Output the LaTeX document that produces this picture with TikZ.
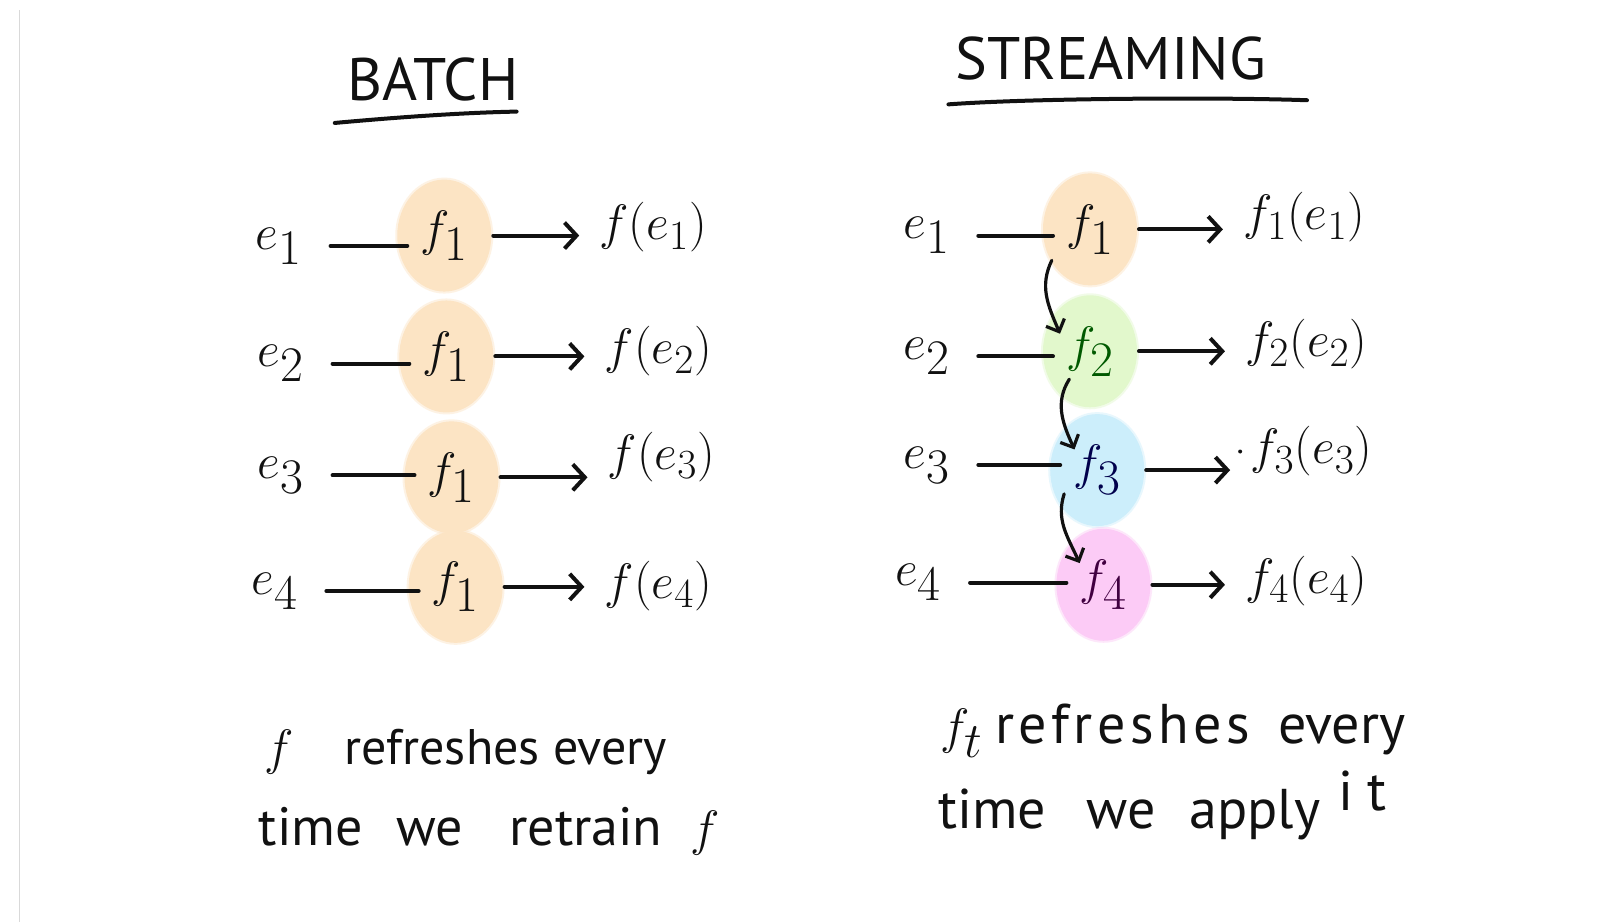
\documentclass[tikz,border=0pt]{standalone}
\usepackage{fontspec}
\setmainfont{PT Sans}
\usetikzlibrary{arrows.meta,shapes.geometric}
\definecolor{peach}{HTML}{FCE4C4}
\definecolor{mint}{HTML}{E2F8CC}
\definecolor{sky}{HTML}{CCEEFB}
\definecolor{orchid}{HTML}{FCCBF6}
\definecolor{ink}{HTML}{111111}
\tikzset{
  blob/.style={ellipse, minimum width=47pt, minimum height=56pt, inner sep=0pt,
    fill=#1, draw=#1, draw opacity=0.45, line width=2pt,
    font=\fontsize{36}{36}\selectfont},
  evt/.style={font=\fontsize{40}{40}\selectfont, inner sep=0pt},
  res/.style={font=\fontsize{28}{28}\selectfont, anchor=west, inner sep=0pt},
  feed/.style={line width=2pt, line cap=round, shorten <=14pt, shorten >=-6pt},
  apply/.style={line width=2pt, line cap=round, shorten >=10pt,
    -{Straight Barb[length=6pt,width=13pt,line width=2pt]}},
  pass/.style={line width=1.6pt, line cap=round,
    -{Straight Barb[length=5pt,width=10pt,line width=1.6pt]}},
  title/.style={font=\fontsize{30}{30}\selectfont},
  ruleline/.style={line width=2pt, line cap=round},
  note/.style={anchor=base west, inner sep=0pt},
}
\newcommand{\bigf}[1]{{\fontsize{34}{34}\selectfont$#1$}}
\newcommand{\spread}[1]{{\addfontfeatures{LetterSpace=8}#1}}
\begin{document}
\begin{tikzpicture}[x=0.5166pt, y=-0.5166pt, color=ink]
\fill[white] (0,0) rectangle (1568,892);
\useasboundingbox (0,0) rectangle (1568,892);
\draw[black!15, line width=0.6pt] (18.5,10) -- (18.5,892);

% ---------- batch ----------
\node[title] (tb) at (419,77) {BATCH};
\draw[ruleline] (324,119) .. controls (390,113) and (450,109) .. (500,108);

\node[evt] (e1) at (270,238) {$e_1$};
\node[evt] (e2) at (272,352) {$e_2$};
\node[evt] (e3) at (272,460) {$e_3$};
\node[evt] (e4) at (266,572) {$e_4$};

\node[blob=peach] (b1) at (430,228) {$f_1$};
\node[blob=peach] (b2) at (432,345) {$f_1$};
\node[blob=peach] (b3) at (437,462) {$f_1$};
\node[blob=peach] (b4) at (441,568) {$f_1$};

\node[res] (o1) at (580,220) {$f(e_1)$};
\node[res] (o2) at (585,340) {$f(e_2)$};
\node[res] (o3) at (588,442) {$f(e_3)$};
\node[res] (o4) at (585,567) {$f(e_4)$};

\foreach \i in {1,...,4} {
  \draw[feed] (e\i.east) -- (e\i.east -| b\i.west);
  \draw[apply] (b\i.east) -- (b\i.east -| o\i.west);
}

\node[note, font=\fontsize{25}{25}\selectfont] (nb1) at (256,740)
  {\bigf{f}\hspace{25pt}refreshes every};
\node[note, font=\fontsize{27}{27}\selectfont] (nb2) at (250,818)
  {time\hspace{17pt}we\hspace{23pt}retrain\hspace{14pt}\bigf{f}};

% ---------- streaming ----------
\node[title] (ts) at (1075,57) {STREAMING};
\draw[ruleline] (918,101) .. controls (1000,95) and (1180,94) .. (1265,97);

\node[evt] (g1) at (897,228) {$e_1$};
\node[evt] (g2) at (897,345) {$e_2$};
\node[evt] (g3) at (897,450) {$e_3$};
\node[evt] (g4) at (889,564) {$e_4$};

\node[blob=peach] (s1) at (1055,222) {$f_1$};
\node[blob=mint, text=green!35!black] (s2) at (1055,340) {$f_2$};
\node[blob=sky, text=blue!30!black] (s3) at (1062,455) {$f_3$};
\node[blob=orchid, text=violet!50!black] (s4) at (1068,566) {$f_4$};

\node[res] (r1) at (1203,210) {$f_1(e_1)$};
\node[res] (r2) at (1205,333) {$f_2(e_2)$};
\node[res] (r3) at (1210,437) {$f_3(e_3)$};
\node[res] (r4) at (1205,562) {$f_4(e_4)$};
\fill ([xshift=-5pt]r3.west) circle (1pt);

\foreach \i in {1,...,4} {
  \draw[feed] (g\i.east) -- (g\i.east -| s\i.west);
  \draw[apply] (s\i.east) -- (s\i.east -| r\i.west);
}

\draw[pass] ([shift={(-37,30)}]s1.center) .. controls +(-12,25) and +(-12,-28) .. ([shift={(-29,-17)}]s2.center);
\draw[pass] ([shift={(-20,27)}]s2.center) .. controls +(-14,22) and +(-12,-26) .. ([shift={(-22,-20)}]s3.center);
\draw[pass] ([shift={(-32,23)}]s3.center) .. controls +(-8,25) and +(-12,-26) .. ([shift={(-23,-21)}]s4.center);

\node[note, font=\fontsize{28}{28}\selectfont] (ns1) at (910,720)
  {\bigf{f_t}\hspace{6pt}\spread{refreshes}\hspace{14pt}every};
\node[note, font=\fontsize{28}{28}\selectfont] (ns2) at (908,802)
  {time\hspace{20pt}we\hspace{17pt}apply\hspace{9pt}\raisebox{9pt}{i\hspace{7pt}t}};
\end{tikzpicture}
\end{document}
